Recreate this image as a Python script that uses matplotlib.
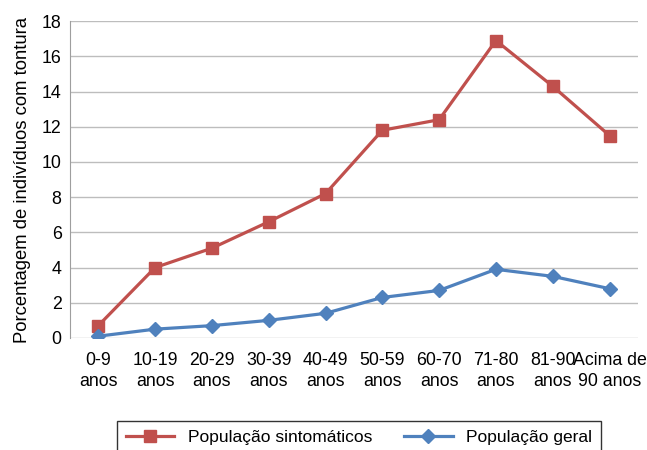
import matplotlib.pyplot as plt
import numpy as np

plt.rcParams['font.family'] = ['Liberation Sans', 'DejaVu Sans']

# --- dados ---
faixas = ['0-9\nanos', '10-19\nanos', '20-29\nanos', '30-39\nanos', '40-49\nanos',
          '50-59\nanos', '60-70\nanos', '71-80\nanos', '81-90\nanos', 'Acima de\n90 anos']
sintomaticos = [0.7, 4.0, 5.1, 6.6, 8.2, 11.8, 12.4, 16.9, 14.3, 11.5]
geral = [0.1, 0.5, 0.7, 1.0, 1.4, 2.3, 2.7, 3.9, 3.5, 2.8]
y_ticks = [0, 2, 4, 6, 8, 10, 12, 14, 16, 18]

fig = plt.figure(figsize=(6.47, 4.5), dpi=100)
ax = fig.add_axes([0.108, 0.249, 0.878, 0.704])

x = np.arange(len(faixas))
ax.plot(x, sintomaticos, color='#C0504D', lw=2.3, marker='s', ms=9,
        label='População sintomáticos', zorder=3)
ax.plot(x, geral, color='#4F81BD', lw=2.3, marker='D', ms=7.5,
        label='População geral', zorder=3)

ax.set_xlim(-0.5, 9.5)
ax.set_ylim(0, 18)
ax.set_yticks(y_ticks)
ax.set_xticks(x)
ax.set_xticklabels(faixas, fontsize=12.8, linespacing=1.3)
ax.tick_params(axis='y', labelsize=12.8, length=0, pad=6)
ax.tick_params(axis='x', length=0, pad=10)
ax.grid(axis='y', color='#BDBDBD', lw=1)
ax.set_axisbelow(True)
for s in ['top', 'right', 'bottom']:
    ax.spines[s].set_visible(False)
ax.spines['left'].set_color('#9E9E9E')
ax.set_ylabel('Porcentagem de indivíduos com tontura', fontsize=13.3, labelpad=8)

leg = fig.legend(loc='upper center', bbox_to_anchor=(0.555, 0.064), ncol=2,
                 fontsize=12.5, frameon=True, fancybox=False, edgecolor='black',
                 handlelength=2.8, columnspacing=1.8, borderpad=0.5, borderaxespad=0)
leg.get_frame().set_linewidth(1.0)

fig.savefig('out.png', dpi=100)
